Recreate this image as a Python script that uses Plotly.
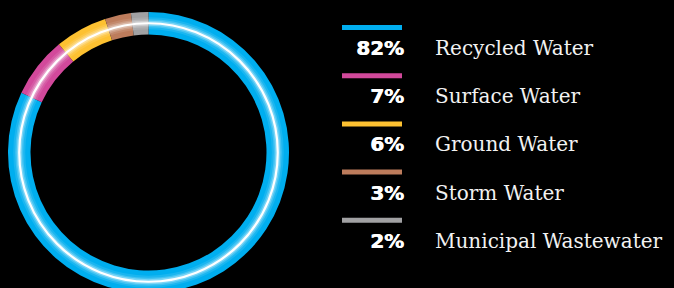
import plotly.graph_objects as go

labels = ["Recycled Water", "Surface Water", "Ground Water", "Storm Water", "Municipal Wastewater"]
values = [82, 7, 6, 3, 2]
pct_text = ["82%", "7%", "6%", "3%", "2%"]
colors = ["#00AEEF", "#D2499B", "#FDC131", "#BD7C5C", "#A1A1A3"]

W, H = 674, 293
T, B = 12, 0
PH = H - T - B

def px_x(x):
    return x / W

def px_y(y):
    return (H - B - y) / PH

cx, cy = 148.5, T + PH / 2
R_out = PH / 2
R_in = 118

fig = go.Figure()
fig.add_trace(go.Pie(
    labels=labels, values=values, sort=False, direction="clockwise", rotation=0,
    hole=R_in / R_out,
    marker=dict(colors=colors, line=dict(width=0)),
    textinfo="none", hoverinfo="label+percent", showlegend=False,
    domain=dict(x=[px_x(cx - 148.5), px_x(cx + 148.5)], y=[0, 1]),
))

shapes = []
# white glowing line in the middle of the ring
r_mid = (R_out + R_in) / 2
for w, op in [(12, 0.1), (8, 0.18), (5, 0.3), (2.2, 1.0)]:
    shapes.append(dict(
        type="circle", xref="paper", yref="paper",
        x0=px_x(cx - r_mid), x1=px_x(cx + r_mid),
        y0=px_y(cy + r_mid), y1=px_y(cy - r_mid),
        line=dict(color=f"rgba(255,255,255,{op})", width=w), layer="above",
    ))

annotations = []
row0, step = 27.5, 48.2
for i, (lab, pt, col) in enumerate(zip(labels, pct_text, colors)):
    yb = row0 + i * step
    shapes.append(dict(
        type="rect", xref="paper", yref="paper",
        x0=px_x(342), x1=px_x(402), y0=px_y(yb + 2.5), y1=px_y(yb - 2.5),
        fillcolor=col, line=dict(width=0),
    ))
    yt = yb + 20.5
    annotations.append(dict(
        text=pt, xref="paper", yref="paper", x=px_x(406), y=px_y(yt),
        xanchor="right", yanchor="middle", showarrow=False,
        font=dict(family="DejaVu Sans", size=20, color="#FFFFFF", weight="bold",
                  shadow="0.7px 0 0 #FFFFFF"),
    ))
    annotations.append(dict(
        text=lab, xref="paper", yref="paper", x=px_x(433), y=px_y(yt),
        xanchor="left", yanchor="middle", showarrow=False,
        font=dict(family="DejaVu Serif", size=20, color="#F2F2F2"),
    ))

fig.update_layout(
    width=W, height=H,
    margin=dict(l=0, r=0, t=T, b=B),
    paper_bgcolor="#000000", plot_bgcolor="#000000",
    shapes=shapes, annotations=annotations,
    showlegend=False,
)
fig.write_html(
    "out.html",
    config={"displayModeBar": False},
    post_script="document.body.style.margin='0';document.body.style.overflow='hidden';"
                "document.body.style.background='#000';",
)
